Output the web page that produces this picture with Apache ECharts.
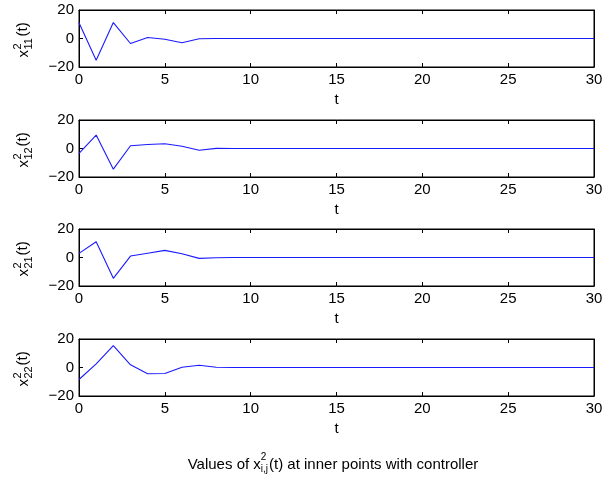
<!DOCTYPE html>
<html>
<head>
<meta charset="utf-8">
<script src="https://cdn.jsdelivr.net/npm/echarts@6/dist/echarts.min.js"></script>
<style>
html,body{margin:0;padding:0;background:#fff;}
#c{width:610px;height:479px;}
</style>
</head>
<body>
<div id="c"></div>
<script>
// ---- data ----
var tValues = [0,1,2,3,4,5,6,7,8,9,10,11,12,13,14,15,16,17,18,19,20,21,22,23,24,25,26,27,28,29,30];
var x11 = [11,-15.2,11.2,-3.5,0.7,-0.5,-3,-0.2,0,0,0,0,0,0,0,0,0,0,0,0,0,0,0,0,0,0,0,0,0,0,0];
var x12 = [-3.5,9.4,-14.5,1.9,2.8,3.3,1.6,-1.2,0.1,0,0,0,0,0,0,0,0,0,0,0,0,0,0,0,0,0,0,0,0,0,0];
var x21 = [2.9,11,-14.6,1,3,5,2.6,-0.6,-0.2,0,0,0,0,0,0,0,0,0,0,0,0,0,0,0,0,0,0,0,0,0,0];
var x22 = [-8.4,2.6,15.4,1.9,-4.4,-4.2,0.2,1.6,0.2,0,0,0,0,0,0,0,0,0,0,0,0,0,0,0,0,0,0,0,0,0,0];
var seriesList = [x11, x12, x21, x22];
var subs = ['11','12','21','22'];
var xTicks = [0,5,10,15,20,25,30];
var yTicks = [-20,0,20];
var xLabel = 't';
var titlePre = 'Values of x';
var titleSup = '2';
var titleSub = 'i,j';
var titlePost = '(t) at inner points with controller';

// ---- layout ----
var FONT = 'Liberation Sans, Arial, Helvetica, sans-serif';
var gridLeft = 79, gridW = 515, gridH = 57;
var tops = [10, 120, 229, 339];

var grids = [], xAxes = [], yAxes = [], series = [], graphics = [];
function fmtMinus(v){ return String(v).replace('-', '\u2212'); }

tops.forEach(function(top, i){
  grids.push({left: gridLeft, top: top, width: gridW, height: gridH, show: true, borderColor: '#000', borderWidth: 1, containLabel: false});
  xAxes.push({
    type: 'value', gridIndex: i, min: xTicks[0], max: xTicks[xTicks.length-1], interval: 5,
    position: 'bottom',
    name: xLabel, nameLocation: 'middle', nameGap: 25,
    nameTextStyle: {fontFamily: FONT, fontSize: 15, color: '#000'},
    axisLine: {show: true, onZero: false, lineStyle: {color: '#000', width: 1}},
    axisTick: {show: true, inside: true, length: 4, lineStyle: {color: '#000'}},
    axisLabel: {show: true, margin: 5, fontFamily: FONT, fontSize: 15, color: '#000'},
    splitLine: {show: false}
  });
  xAxes.push({
    type: 'value', gridIndex: i, min: xTicks[0], max: xTicks[xTicks.length-1], interval: 5,
    position: 'top',
    axisLine: {show: true, onZero: false, lineStyle: {color: '#000', width: 1}},
    axisTick: {show: true, inside: true, length: 4, lineStyle: {color: '#000'}},
    axisLabel: {show: false},
    splitLine: {show: false}
  });
  yAxes.push({
    type: 'value', gridIndex: i, min: yTicks[0], max: yTicks[yTicks.length-1], interval: 20,
    position: 'left',
    axisLine: {show: true, onZero: false, lineStyle: {color: '#000', width: 1}},
    axisTick: {show: true, inside: true, length: 4, lineStyle: {color: '#000'}},
    axisLabel: {show: true, margin: 5, fontFamily: FONT, fontSize: 15, color: '#000', formatter: fmtMinus},
    splitLine: {show: false}
  });
  yAxes.push({
    type: 'value', gridIndex: i, min: yTicks[0], max: yTicks[yTicks.length-1], interval: 20,
    position: 'right',
    axisLine: {show: true, onZero: false, lineStyle: {color: '#000', width: 1}},
    axisTick: {show: true, inside: true, length: 4, lineStyle: {color: '#000'}},
    axisLabel: {show: false},
    splitLine: {show: false}
  });
  series.push({
    type: 'line', xAxisIndex: i*2, yAxisIndex: i*2,
    data: tValues.map(function(t, k){ return [t, seriesList[i][k]]; }),
    showSymbol: false, symbol: 'none',
    lineStyle: {color: '#1a1aff', width: 1.1},
    animation: false
  });
  var cy = top + gridH/2;
  graphics.push({
    type: 'group', x: 28, y: cy + 19, rotation: Math.PI/2,
    children: [
      {type: 'text', x: 0, y: -4, style: {text: 'x', font: '15px ' + FONT, fill: '#000', textAlign: 'left', textVerticalAlign: 'middle'}},
      {type: 'text', x: 8, y: -10, style: {text: '2', font: '11px ' + FONT, fill: '#000', textAlign: 'left', textVerticalAlign: 'middle'}},
      {type: 'text', x: 8, y: 1, style: {text: subs[i], font: '11px ' + FONT, fill: '#000', textAlign: 'left', textVerticalAlign: 'middle'}},
      {type: 'text', x: 21, y: -5, style: {text: '(t)', font: '15px ' + FONT, fill: '#000', textAlign: 'left', textVerticalAlign: 'middle'}}
    ]
  });
});

var cv = document.createElement('canvas').getContext('2d');
function tw(s, size){ cv.font = size + 'px ' + FONT; return cv.measureText(s).width; }
var tSize = 15, sSize = 10;
var wPre = tw(titlePre, tSize), wSup = tw(titleSup, sSize), wSub = tw(titleSub, sSize), wPost = tw(titlePost, tSize);
var wMid = Math.max(wSup, wSub) + 1;
var totalW = wPre + wMid + wPost;
var cx = 333, ty = 465;
var x0 = cx - totalW/2;
graphics.push({type: 'text', x: x0, y: ty, style: {text: titlePre, font: tSize + 'px ' + FONT, fill: '#000', textAlign: 'left', textVerticalAlign: 'middle'}});
graphics.push({type: 'text', x: x0 + wPre, y: ty - 8, style: {text: titleSup, font: sSize + 'px ' + FONT, fill: '#000', textAlign: 'left', textVerticalAlign: 'middle'}});
graphics.push({type: 'text', x: x0 + wPre, y: ty + 4, style: {text: titleSub, font: sSize + 'px ' + FONT, fill: '#000', textAlign: 'left', textVerticalAlign: 'middle'}});
graphics.push({type: 'text', x: x0 + wPre + wMid, y: ty, style: {text: titlePost, font: tSize + 'px ' + FONT, fill: '#000', textAlign: 'left', textVerticalAlign: 'middle'}});

var chart = echarts.init(document.getElementById('c'), null, {renderer: 'canvas'});
chart.setOption({
  animation: false,
  backgroundColor: '#fff',
  grid: grids,
  xAxis: xAxes,
  yAxis: yAxes,
  series: series,
  graphic: graphics
});
</script>
</body>
</html>
